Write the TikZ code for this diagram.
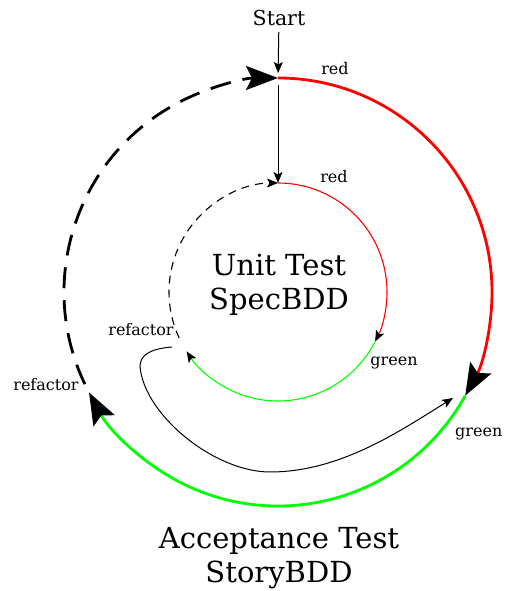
\documentclass[tikz,border=0pt]{standalone}
\usepackage{fontspec}
\setmainfont{DejaVu Serif}
\usetikzlibrary{arrows.meta,calc}
\begin{document}
\begin{tikzpicture}[x=1pt,y=1pt,
  bigtip/.style={-{Stealth[length=32pt,width=24pt,inset=6pt,color=black]}},
  smalltip/.style={-{Stealth[length=11pt,width=9pt,inset=2.5pt,color=black]}},
  outerline/.style={line width=2.8pt},
  innerline/.style={line width=1.1pt},
  thinline/.style={line width=1pt},
  outerdash/.style={dash pattern=on 21pt off 12pt},
  innerdash/.style={dash pattern=on 8pt off 6pt},
  lbl/.style={font=\fontsize{16}{18}\selectfont, inner sep=0pt},
  title/.style={font=\fontsize{29}{34}\selectfont, align=center, inner sep=0pt}]
\useasboundingbox (0,0) rectangle (504,591);
\coordinate (C) at (278,299);
\coordinate (otop) at ($(C)+(90:214)$);
\coordinate (ored) at ($(C)+(-29:214)$);
\coordinate (odash) at ($(C)+(205.5:214)$);
\coordinate (itop) at ($(C)+(90:109)$);
\coordinate (ired) at ($(C)+(-27:109)$);
\coordinate (idash) at ($(C)+(205:109)$);
% outer cycle
\draw[outerline, red, bigtip] (otop) arc[start angle=90, end angle=-29, radius=214];
\draw[outerline, green, bigtip] (ored) arc[start angle=-29, end angle=-152, radius=214];
\draw[outerline, outerdash, bigtip] (odash) arc[start angle=205.5, end angle=90, radius=214];
% inner cycle
\draw[innerline, red, smalltip] (itop) arc[start angle=90, end angle=-27, radius=109];
\draw[innerline, green, smalltip] (ired) arc[start angle=-27, end angle=-147, radius=109];
\draw[innerline, innerdash, smalltip] (idash) arc[start angle=205, end angle=90, radius=109];
% start
\node[font=\fontsize{20.5}{24}\selectfont, inner sep=0pt] (start) at (279,573) {Start};
\draw[thinline, smalltip, shorten <=6pt, shorten >=5pt] (start) -- (otop);
\draw[thinline, smalltip, shorten <=7pt] (otop) -- (itop);
% refactor to outer
\coordinate (cs) at (172,244);
\coordinate (ce) at (453,193);
\draw[thinline, smalltip] (cs) .. controls (148,242) and (140,235) .. (140,224)
  .. controls (145,175) and (215,119) .. (270,119)
  .. controls (340,119) and (400,160) .. (ce);
% labels
\node[lbl] (lred1) at (335,522) {red};
\node[lbl] (lred2) at (334,414) {red};
\node[lbl] (lgreen2) at (394,228) {green};
\node[lbl, anchor=west] (lgreen1) at (455,157) {green};
\node[lbl] (lref1) at (46,206) {refactor};
\node[lbl] (lref2) at (141,261) {refactor};
\node[title] (unit) at (279,306) {Unit Test\\SpecBDD};
\node[title] (acc) at (279,33) {Acceptance Test\\StoryBDD};
\end{tikzpicture}
\end{document}
